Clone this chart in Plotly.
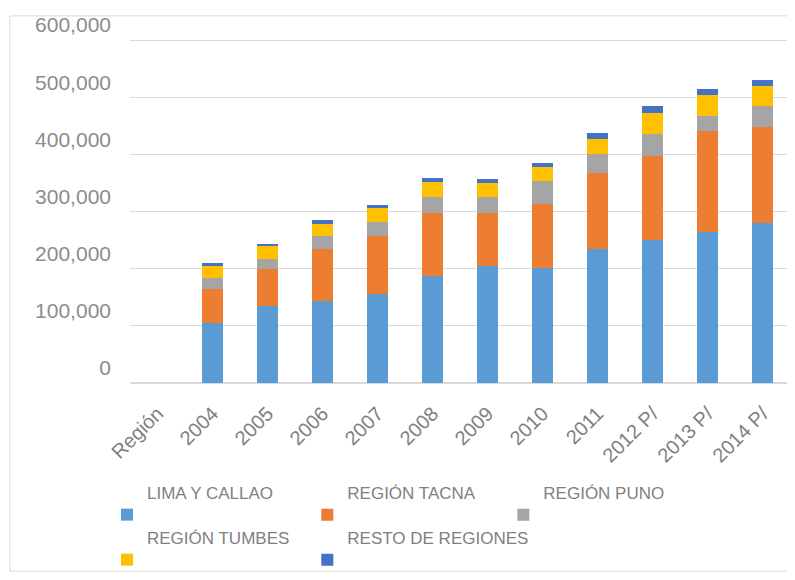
import plotly.graph_objects as go

# categories along the x axis (first one is an empty header column)
years = ["Región", "2004", "2005", "2006", "2007", "2008", "2009",
         "2010", "2011", "2012 P/", "2013 P/", "2014 P/"]

# values
lima_callao = [None, 105000, 134000, 144000, 155000, 187000, 205000,
               201000, 234000, 251000, 265000, 280000]
region_tacna = [None, 60000, 66000, 91000, 103000, 110000, 92000,
                113000, 134000, 146000, 176000, 168000]
region_puno = [None, 19000, 17000, 22000, 23000, 28000, 28000,
               39000, 32000, 38000, 26000, 36000]
region_tumbes = [None, 20000, 23000, 21000, 25000, 26000, 24000,
                 24000, 27000, 38000, 37000, 36000]
resto_regiones = [None, 6000, 4000, 8000, 5000, 7000, 8000,
                  7000, 11000, 12000, 10000, 10000]

y_ticks = [0, 100000, 200000, 300000, 400000, 500000, 600000]

# (name, values, colour, own legend box)
series = [
    ("LIMA Y CALLAO", lima_callao, "#5B9BD5", "legend"),
    ("REGIÓN TACNA", region_tacna, "#ED7D31", "legend2"),
    ("REGIÓN PUNO", region_puno, "#A5A5A5", "legend3"),
    ("REGIÓN TUMBES", region_tumbes, "#FFC000", "legend4"),
    ("RESTO DE REGIONES", resto_regiones, "#4472C4", "legend5"),
]

fig = go.Figure()
for name, vals, color, leg in series:
    fig.add_trace(go.Bar(
        x=years, y=vals,
        name=name + "<br> ",  # blank second line so the swatch sits under the text
        legend=leg,
        showlegend=True,
        marker=dict(color=color, line=dict(width=0)),
    ))

legend_style = dict(
    orientation="h",
    xref="container", yref="container",
    xanchor="left", yanchor="top",
    valign="bottom",
    itemwidth=30,
    bgcolor="rgba(0,0,0,0)",
    font=dict(family="Liberation Sans", size=17, color="#7f7f7f"),
)
col_x = [0.1258, 0.3803, 0.6294]
row_y = [0.1836, 0.1049]

# the page body adds an 8px offset, so the figure is 8px smaller each way
fig.update_layout(
    barmode="stack",
    bargap=0.62,
    width=787, height=572,
    margin=dict(l=122, r=5, t=23, b=197),
    paper_bgcolor="white",
    plot_bgcolor="white",
    font=dict(family="Liberation Sans", color="#7f7f7f"),
    showlegend=True,
    legend=dict(legend_style, x=col_x[0], y=row_y[0]),
    legend2=dict(legend_style, x=col_x[1], y=row_y[0]),
    legend3=dict(legend_style, x=col_x[2], y=row_y[0]),
    legend4=dict(legend_style, x=col_x[0], y=row_y[1]),
    legend5=dict(legend_style, x=col_x[1], y=row_y[1]),
    shapes=[dict(
        type="rect", xref="paper", yref="paper",
        x0=-0.182, x1=1.003, y0=-0.5455, y1=1.064,
        line=dict(color="#d9d9d9", width=1),
    )],
)

fig.update_yaxes(
    range=[0, 603500],
    tickvals=y_ticks,
    tickformat=",d",
    showgrid=True, gridcolor="#d9d9d9", gridwidth=1,
    zeroline=True, zerolinecolor="#d9d9d9",
    showline=False,
    ticks="",
    ticklabelstandoff=18,
    ticklabelshift=-15,
    ticklabeloverflow="allow",
    tickfont=dict(family="Liberation Sans", size=21, color="#8c8c8c"),
)

fig.update_xaxes(
    tickangle=-45,
    showgrid=False,
    showline=False,
    ticks="",
    ticklabelstandoff=14,
    tickfont=dict(family="Liberation Sans", size=20, color="#7f7f7f"),
)

fig.write_html("out.html")
